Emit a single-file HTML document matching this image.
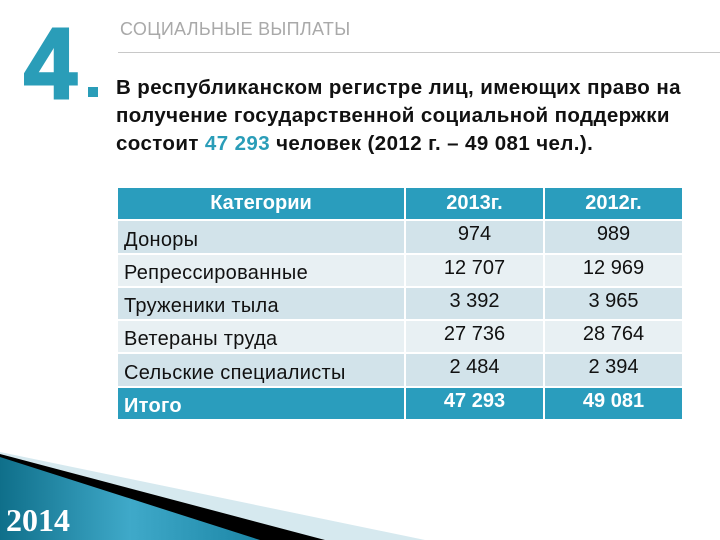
<!DOCTYPE html>
<html><head><meta charset="utf-8"><style>
body{margin:0;width:720px;height:540px;overflow:hidden;background:#fff;position:relative;font-family:"Liberation Sans",sans-serif}
.abs{position:absolute}
table{position:absolute;left:116px;top:186px;border-collapse:collapse;width:568px;table-layout:fixed}
td{box-sizing:border-box;height:33.3px;padding:0;border:2px solid #fff;font-size:20px;color:#111;overflow:hidden;white-space:nowrap}
td.c{text-align:center;vertical-align:top;padding-top:2px;width:139px}
td.l{padding-left:6px;vertical-align:bottom;padding-bottom:1px;letter-spacing:0.3px}
tr.h td{background:#2a9dbd;color:#fff;font-weight:bold;vertical-align:middle;padding:0}
tr.a td{background:#d2e3ea}
tr.b td{background:#e8f0f3}
tr.t td{background:#2a9dbd;color:#fff;font-weight:bold}
</style></head><body>
<div class="abs" style="left:24px;top:14px;font-size:100px;font-weight:bold;color:#2a9db8;line-height:1;transform:scaleX(0.95);transform-origin:left;-webkit-text-stroke:3px #2a9db8">4</div>
<div class="abs" style="left:120px;top:19px;font-size:18px;color:#a9a9a9;letter-spacing:0.3px">СОЦИАЛЬНЫЕ ВЫПЛАТЫ</div>
<div class="abs" style="left:118px;top:52px;width:602px;height:1px;background:#c8c8c8"></div>
<div class="abs" style="left:88px;top:87px;width:10px;height:10px;background:#2a9db8"></div>
<div class="abs" style="left:116px;top:74px;font-size:20.5px;font-weight:bold;line-height:28px;color:#111;width:610px;letter-spacing:0.4px;white-space:nowrap">В республиканском регистре лиц, имеющих право на<br>получение государственной социальной поддержки<br>состоит <span style="color:#2a9db8">47 293</span> человек (2012 г. – 49 081 чел.).</div>
<table>
<tr class="h"><td style="text-align:center">Категории</td><td class="c">2013г.</td><td class="c">2012г.</td></tr>
<tr class="a"><td class="l">Доноры</td><td class="c">974</td><td class="c">989</td></tr>
<tr class="b"><td class="l">Репрессированные</td><td class="c">12 707</td><td class="c">12 969</td></tr>
<tr class="a"><td class="l">Труженики тыла</td><td class="c">3 392</td><td class="c">3 965</td></tr>
<tr class="b"><td class="l">Ветераны труда</td><td class="c">27 736</td><td class="c">28 764</td></tr>
<tr class="a"><td class="l">Сельские специалисты</td><td class="c">2 484</td><td class="c">2 394</td></tr>
<tr class="t"><td class="l">Итого</td><td class="c">47 293</td><td class="c">49 081</td></tr>
</table>
<svg class="abs" style="left:0;top:0" width="720" height="540">
<defs><linearGradient id="g" x1="0" y1="0" x2="1" y2="0"><stop offset="0" stop-color="#0f6f8a"/><stop offset="0.5" stop-color="#3fa9c9"/><stop offset="1" stop-color="#1c86a6"/></linearGradient></defs>
<polygon points="0,452 425,540 0,540" fill="#d6e9ef"/>
<polygon points="0,454 325,540 0,540" fill="#000"/>
<polygon points="0,457 260,540 0,540" fill="url(#g)"/>
</svg>
<div class="abs" style="left:6px;top:502px;font-family:'Liberation Serif',serif;font-weight:bold;font-size:32px;color:#fff">2014</div>
</body></html>
